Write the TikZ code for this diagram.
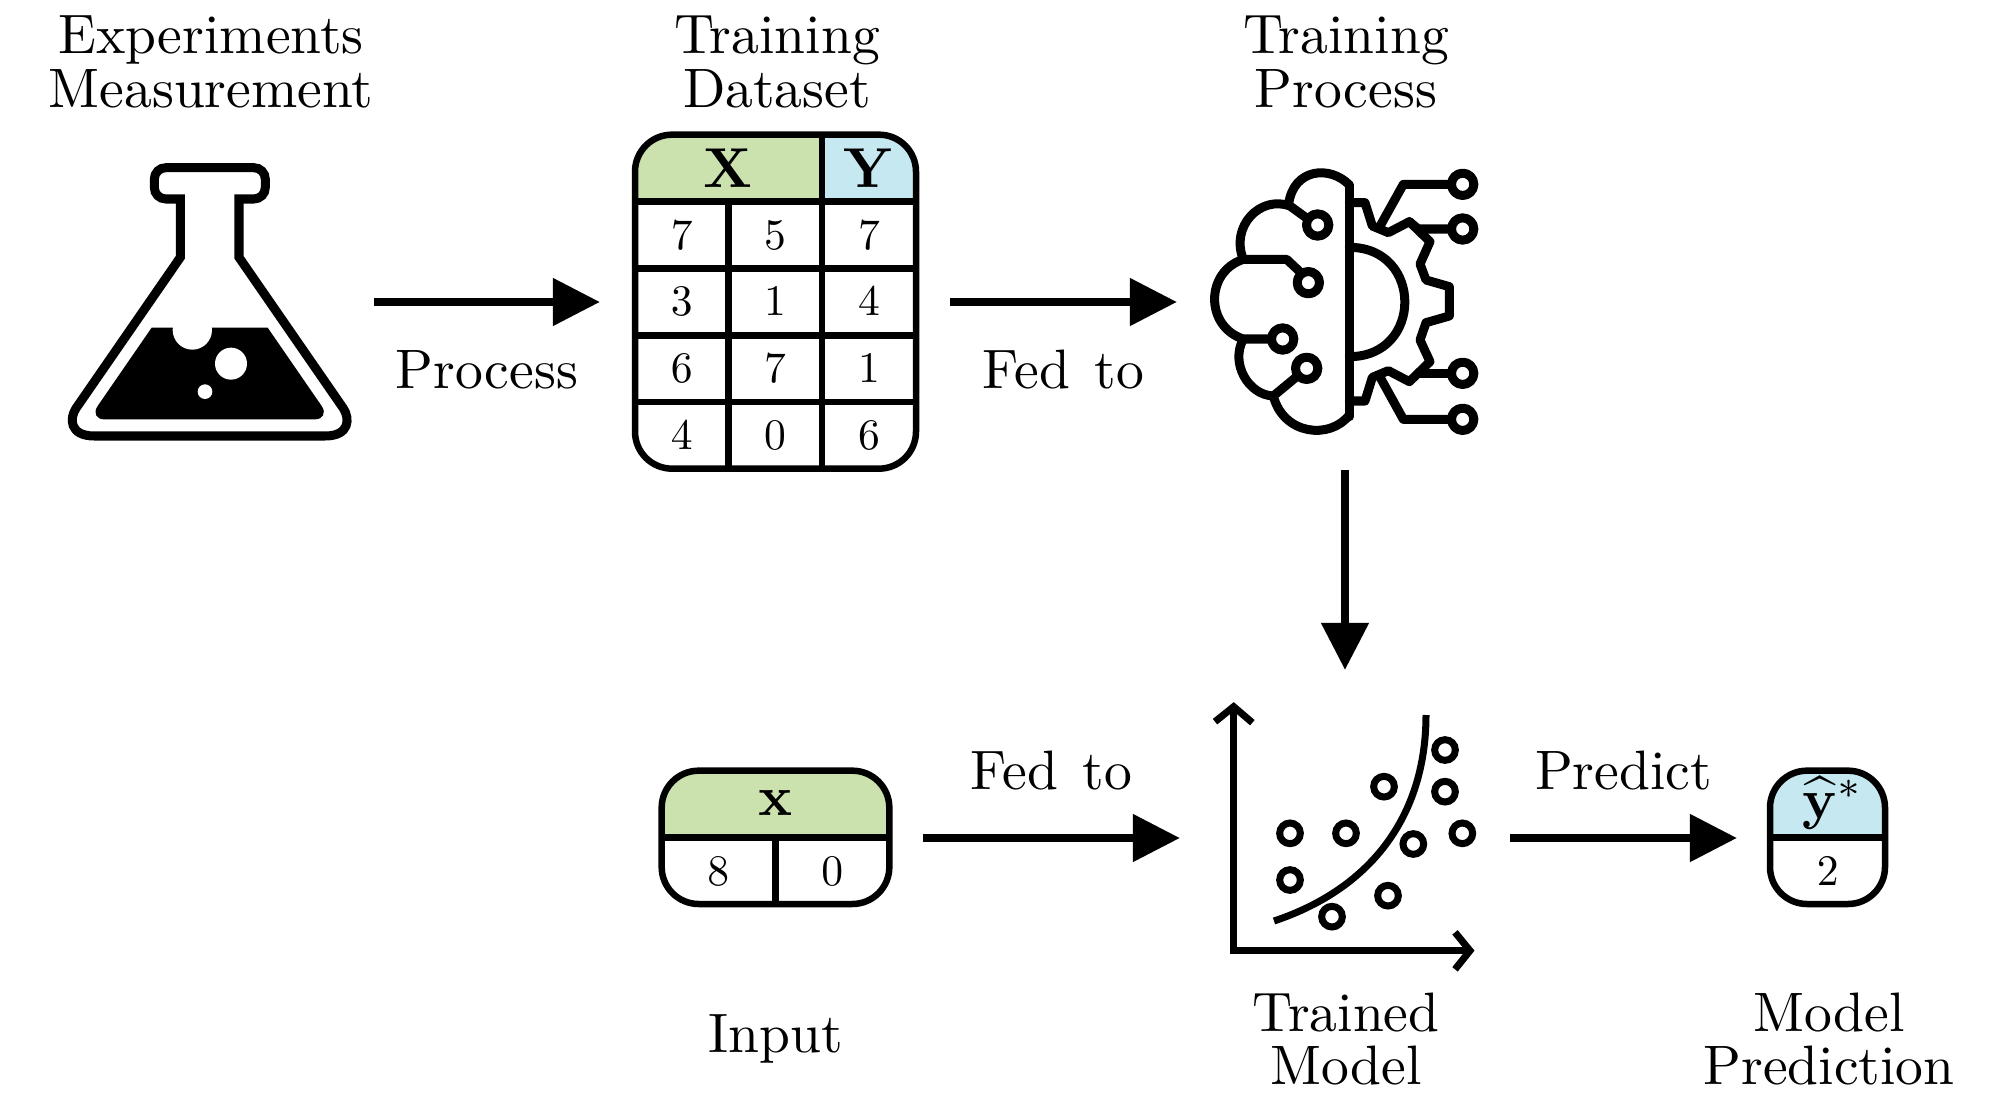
\documentclass[tikz,border=0pt]{standalone}
\usetikzlibrary{
		calc,
		positioning,
		arrows.meta
	}
\definecolor{headgreen}{RGB}{203,226,174}
\definecolor{headblue}{RGB}{198,232,241}
\tikzset{
		flow/.style={line width=0.08cm, -{Triangle[length=0.47cm,width=0.46cm]}},
		iconbox/.style={inner sep=0pt, outer sep=0pt},
		caption/.style={scale=1.58, align=center, font=\fontsize{10}{9.7}\selectfont},
		edgetext/.style={scale=1.58, midway},
		cell/.style={scale=1.24},
		headcell/.style={scale=1.6},
		icon/.style={line width=0.09cm, line join=round, line cap=round},
		plot/.style={line width=0.07cm, line join=miter},
		grid/.style={line width=0.065cm}
	}

\begin{document}
\begin{tikzpicture}[x=0.01cm, y=-0.01cm]
	\useasboundingbox (0,0) rectangle (2000,1100);

	% boxes round the icons, the connectors end on them
	\node[iconbox, minimum width=3.32cm, minimum height=2cm] (flask) at (208,302) {};
	\node[iconbox, minimum width=3.50cm, minimum height=2cm] (dataset) at (775,302) {};
	\node[iconbox, minimum width=3.36cm, minimum height=3.36cm] (brain) at (1345,302) {};
	\node[iconbox, minimum width=3.30cm, minimum height=3.36cm] (model) at (1345,838) {};
	\node[iconbox, minimum width=2.96cm, minimum height=1cm] (query) at (775,838) {};
	\node[iconbox, minimum width=1.82cm, minimum height=1cm] (result) at (1828,838) {};

	% captions
	\node[caption] (capflask) at (211,62) {Experiments\\Measurement};
	\node[caption] (capdata) at (777,62) {Training\\Dataset};
	\node[caption] (capbrain) at (1346,62) {Training\\Process};
	\node[caption] (capquery) at (776,1039) {Input};
	\node[caption] (capmodel) at (1346,1039) {Trained\\Model};
	\node[caption] (capresult) at (1829,1039) {Model\\Prediction};

	% connectors
	\draw[flow] (flask.east) -- node[edgetext, yshift=-0.43cm] (lblprocess) {Process} (dataset.west);
	\draw[flow] (dataset.east) -- node[edgetext, yshift=-0.43cm] (lblfed) {Fed \hspace{0.11em}to} (brain.west);
	\draw[flow] (brain.south) -- (model.north);
	\draw[flow] (query.east) -- node[edgetext, yshift=0.425cm] (lblfedb) {Fed \hspace{0.11em}to} (model.west);
	\draw[flow] (model.east) -- node[edgetext, yshift=0.425cm] (lblpredict) {Predict} (result.west);

	% flask
	\begin{scope}[shift={(0,130)}, scale=1/3]
		\draw[icon, line cap=butt, line join=miter] (541,382) -- (541,207) -- (498,207)
			.. controls (478,207) and (463,192) .. (463,172) -- (463,148)
			.. controls (463,128) and (478,113) .. (498,113) -- (761,113)
			.. controls (781,113) and (796,128) .. (796,148) -- (796,172)
			.. controls (796,192) and (781,207) .. (761,207) -- (717,207) -- (717,382) -- (1030,835)
			.. controls (1050,865) and (1050,918) .. (975,918) -- (283,918)
			.. controls (208,918) and (208,865) .. (228,835) -- cycle;
		\fill (455,593) -- (803,593) -- (965,828)
			.. controls (980,850) and (968,868) .. (945,868) -- (312,868)
			.. controls (290,868) and (278,850) .. (293,828) -- cycle;
		\fill[white] (577,600) circle (59);
		\fill[white] (693,701) circle (48);
		\fill[white] (615,785) circle (22);
	\end{scope}

	% dataset table
	\begin{scope}[shift={(620,120)}, scale=1/3]
		\begin{scope}
			\clip[rounded corners=0.37cm] (45,44) rectangle (888,1046);
			\fill[headgreen] (45,44) rectangle (606,245);
			\fill[headblue] (606,44) rectangle (888,245);
		\end{scope}
		\draw[grid, rounded corners=0.37cm] (45,44) rectangle (888,1046);
		\foreach \ypos in {245,445,646,846}
			\draw[grid] (45,\ypos) -- (888,\ypos);
		\draw[grid] (325,245) -- (325,1046);
		\draw[grid] (606,44) -- (606,1046);
		\node[headcell] (headx) at (325,145) {$\mathbf{X}$};
		\node[headcell] (heady) at (747,145) {$\mathbf{Y}$};
		\foreach \xpos/\ypos/\val [count=\i] in {185/345/7, 465/345/5, 747/345/7,
				185/545/3, 465/545/1, 747/545/4,
				185/746/6, 465/746/7, 747/746/1,
				185/946/4, 465/946/0, 747/946/6}
			\node[cell] (d\i) at (\xpos,\ypos) {$\val$};
	\end{scope}

	% brain and gear
	\begin{scope}[shift={(1180,140)}, scale=1/3]
		\draw[icon] (508,135) -- (508,830);
		\draw[icon] (508,135) .. controls (450,75) and (340,85) .. (326,192);
		\draw[icon] (385,238) -- (330,198) .. controls (240,165) and (150,260) .. (190,358);
		\draw[icon] (370,405) -- (320,358) -- (190,358)
			.. controls (75,395) and (75,560) .. (190,597) -- (272,597);
		\draw[icon] (190,597) .. controls (150,670) and (205,765) .. (280,768);
		\draw[icon] (350,710) -- (280,768) .. controls (310,885) and (450,900) .. (508,825);
		\draw[icon] (508,322) .. controls (730,322) and (730,650) .. (508,650);
		\draw[icon] (508,188) -- (555,188) -- (577,258) -- (625,278) -- (688,245) -- (750,305)
			-- (720,372) -- (738,420) -- (808,440) -- (808,528) -- (738,548) -- (720,600)
			-- (750,665) -- (688,725) -- (625,692) -- (577,712) -- (555,783) -- (508,783);
		\draw[icon] (602,255) -- (670,133) -- (815,133);
		\draw[icon] (688,245) -- (715,267) -- (815,267);
		\draw[icon] (715,700) -- (815,700);
		\draw[icon] (602,715) -- (670,838) -- (815,838);
		\foreach \xpos/\ypos in {413/255, 385/428, 308/597, 380/685, 848/133, 848/267, 848/700, 848/838}
			\draw[icon, fill=white] (\xpos,\ypos) circle (33.5);
	\end{scope}

	% query table
	\begin{scope}[shift={(650,750)}, scale=1/3]
		\begin{scope}
			\clip[rounded corners=0.37cm] (35,62) rectangle (718,462);
			\fill[headgreen] (35,62) rectangle (718,262);
		\end{scope}
		\draw[grid, rounded corners=0.37cm] (35,62) rectangle (718,462);
		\draw[grid] (35,262) -- (718,262);
		\draw[grid] (377,262) -- (377,462);
		\node[headcell] (headq) at (377,160) {$\mathbf{x}$};
		\node[cell] (q1) at (205,365) {$8$};
		\node[cell] (q2) at (547,365) {$0$};
	\end{scope}

	% scatter plot
	\begin{scope}[shift={(1190,690)}, scale=1/3]
		\draw[plot] (75,95) -- (131,50) -- (187,98);
		\draw[plot] (795,727) -- (840,782) -- (795,838);
		\draw[plot] (131,55) -- (131,782) -- (835,782);
		\draw[plot] (252,693) .. controls (560,590) and (708,360) .. (708,75);
		\foreach \xpos/\ypos in {765/180, 765/305, 582/290, 300/430, 468/430, 670/462, 817/430, 300/570, 594/617, 426/680}
			\draw[plot] (\xpos,\ypos) circle (31);
	\end{scope}

	% prediction table
	\begin{scope}[shift={(1760,750)}, scale=1/3]
		\begin{scope}
			\clip[rounded corners=0.37cm] (30,62) rectangle (375,462);
			\fill[headblue] (30,62) rectangle (375,262);
		\end{scope}
		\draw[grid, rounded corners=0.37cm] (30,62) rectangle (375,462);
		\draw[grid] (30,262) -- (375,262);
		\node[headcell] (headr) at (218,160) {$\widehat{\mathbf{y}}^{*}$};
		\node[cell] (r1) at (203,365) {$2$};
	\end{scope}
\end{tikzpicture}
\end{document}
